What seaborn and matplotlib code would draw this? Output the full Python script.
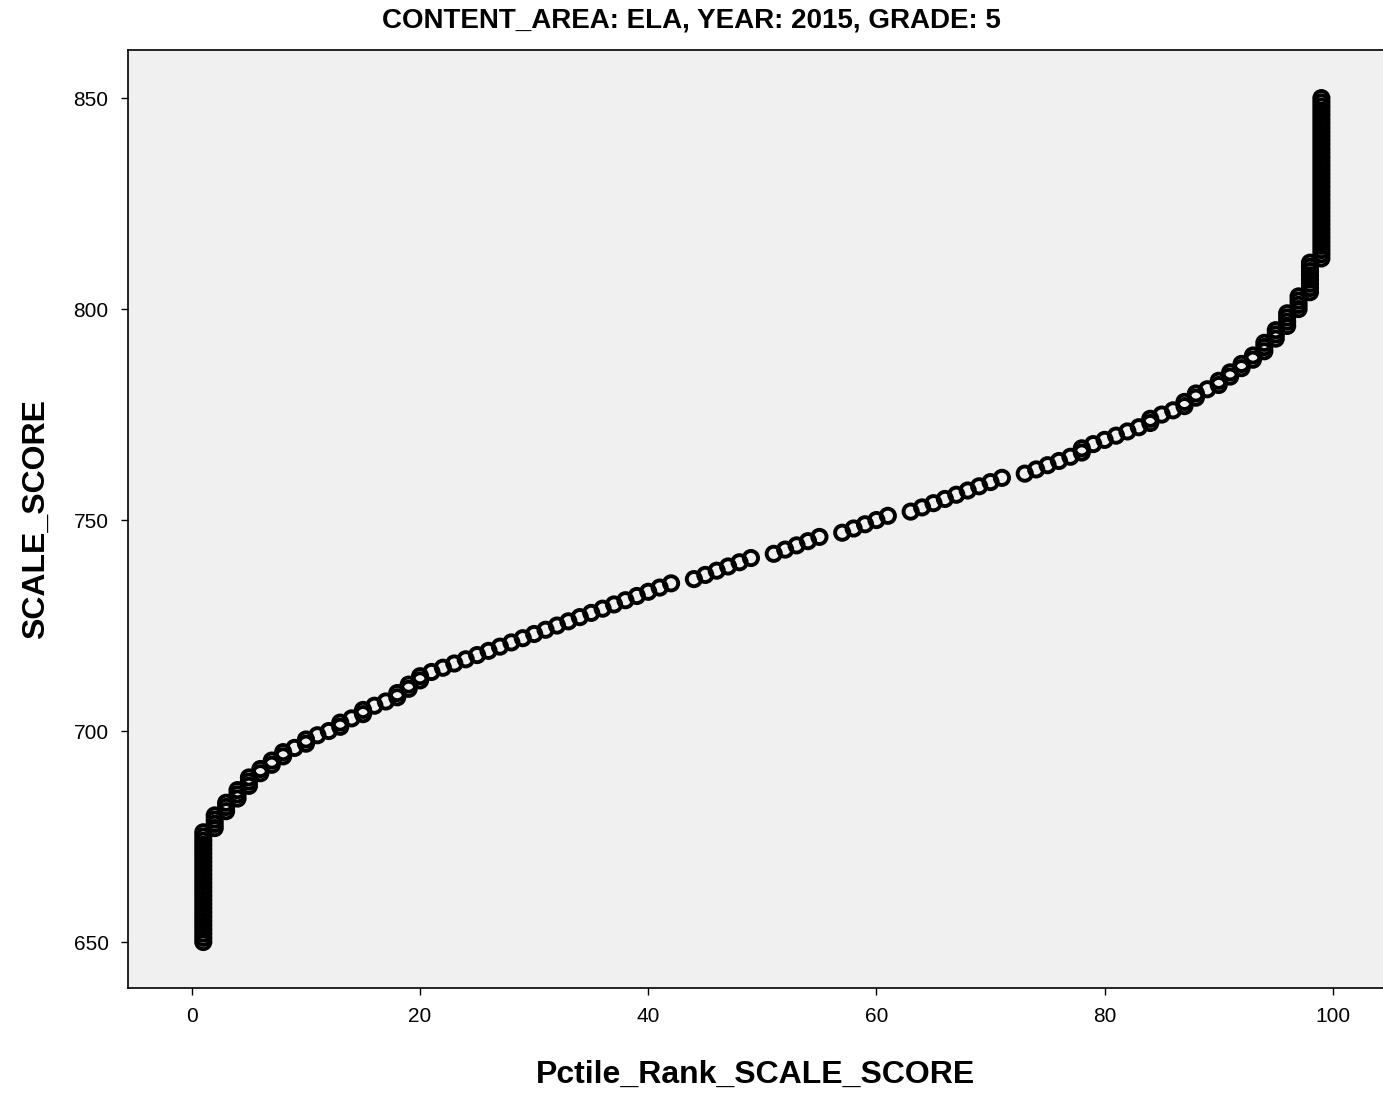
import numpy as np
import pandas as pd
import seaborn as sns
import matplotlib.pyplot as plt

# score scale (one point per integer scale score)
scale_score = np.arange(650, 851)

# percentile rank for each score, 10 scores per row
pctile_rank = [
    1, 1, 1, 1, 1, 1, 1, 1, 1, 1,            # 650-659
    1, 1, 1, 1, 1, 1, 1, 1, 1, 1,            # 660-669
    1, 1, 1, 1, 1, 1, 1, 2, 2, 2,            # 670-679
    2, 3, 3, 3, 4, 4, 4, 5, 5, 5,            # 680-689
    6, 6, 7, 7, 8, 8, 9, 10, 10, 11,         # 690-699
    12, 13, 13, 14, 15, 15, 16, 17, 18, 18,  # 700-709
    19, 19, 20, 20, 21, 22, 23, 24, 25, 26,  # 710-719
    27, 28, 29, 30, 31, 32, 33, 34, 35, 36,  # 720-729
    37, 38, 39, 40, 41, 42, 44, 45, 46, 47,  # 730-739
    48, 49, 51, 52, 53, 54, 55, 57, 58, 59,  # 740-749
    60, 61, 63, 64, 65, 66, 67, 68, 69, 70,  # 750-759
    71, 73, 74, 75, 76, 77, 78, 78, 79, 80,  # 760-769
    81, 82, 83, 84, 84, 85, 86, 87, 87, 88,  # 770-779
    88, 89, 90, 90, 91, 91, 92, 92, 93, 93,  # 780-789
    94, 94, 94, 95, 95, 95, 96, 96, 96, 96,  # 790-799
    97, 97, 97, 97, 98, 98, 98, 98, 98, 98,  # 800-809
    98, 98, 99, 99, 99, 99, 99, 99, 99, 99,  # 810-819
    99, 99, 99, 99, 99, 99, 99, 99, 99, 99,  # 820-829
    99, 99, 99, 99, 99, 99, 99, 99, 99, 99,  # 830-839
    99, 99, 99, 99, 99, 99, 99, 99, 99, 99,  # 840-849
    99,                                      # 850
]

x_ticks = [0, 20, 40, 60, 80, 100]
y_ticks = [650, 700, 750, 800, 850]

df = pd.DataFrame({'Pctile_Rank_SCALE_SCORE': pctile_rank, 'SCALE_SCORE': scale_score})

sns.set_style('ticks')
plt.rcParams['font.family'] = ['Liberation Sans', 'DejaVu Sans']
plt.rcParams['text.color'] = 'black'
plt.rcParams['axes.labelcolor'] = 'black'

fig = plt.figure(figsize=(13.83, 10.93), dpi=100)
ax = fig.add_axes([128 / 1383, 105 / 1093, 1255 / 1383, 938 / 1093])
ax.set_facecolor('#f0f0f0')

sns.scatterplot(data=df, x='Pctile_Rank_SCALE_SCORE', y='SCALE_SCORE', ax=ax,
                marker='o', s=105, facecolors='none', edgecolor='black', linewidth=2.8)

ax.set_xlim(-5.6, 104.4)
ax.set_ylim(639.1, 861.4)
ax.set_xticks(x_ticks)
ax.set_yticks(y_ticks)
ax.tick_params(labelsize=15, length=5, width=1, colors='black', pad=9)
ax.spines['right'].set_visible(False)
for s in ax.spines.values():
    s.set_color('black')
    s.set_linewidth(1.2)

ax.set_xlabel('Pctile_Rank_SCALE_SCORE', fontsize=23, fontweight='bold', labelpad=24)
ax.set_ylabel('SCALE_SCORE', fontsize=23, fontweight='bold', labelpad=16)
fig.suptitle('CONTENT_AREA: ELA, YEAR: 2015, GRADE: 5', fontsize=20, fontweight='bold',
             family=['Liberation Sans Narrow', 'Liberation Sans', 'DejaVu Sans'], y=0.993, va='top')

plt.savefig('out.png', dpi=100)
